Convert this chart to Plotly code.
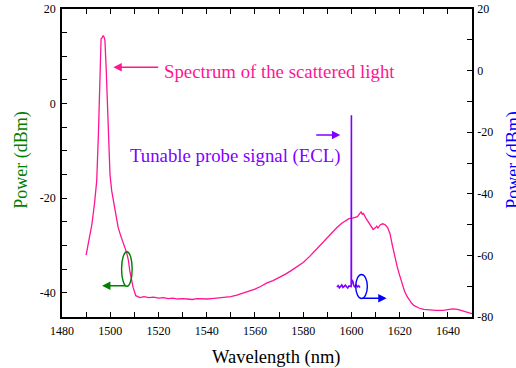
import plotly.graph_objects as go

# Spectrum of the scattered light (left axis, dBm)
spec_wl = [1490.0, 1491.2, 1492.4, 1493.5, 1494.4, 1495.1, 1495.8, 1496.2, 1496.7, 1497.1, 1497.5,
           1497.8, 1498.3, 1498.8, 1499.4, 1499.9, 1500.6, 1502.0, 1503.3, 1504.4, 1505.4, 1506.8,
           1507.5, 1508.1, 1509.5, 1510.6, 1512.3, 1514.0, 1516.0, 1518.0, 1520.0, 1522.0, 1524.0,
           1526.0, 1528.0, 1530.0, 1532.0, 1534.0, 1536.0, 1538.0, 1540.0, 1542.0, 1544.0, 1546.0,
           1548.0, 1550.0, 1552.5, 1555.0, 1557.5, 1560.0, 1562.5, 1565.0, 1567.5, 1570.0, 1572.5,
           1575.0, 1577.5, 1580.0, 1582.5, 1585.0, 1587.5, 1590.0, 1592.0, 1594.0, 1596.0, 1597.5,
           1599.0, 1600.5, 1601.5, 1602.5, 1603.5, 1604.0, 1604.5, 1605.0, 1606.0, 1607.0, 1608.0,
           1609.0, 1610.0, 1610.5, 1611.0, 1612.0, 1613.0, 1614.0, 1615.0, 1616.0, 1617.0, 1618.0,
           1619.0, 1620.0, 1621.0, 1622.0, 1623.0, 1624.0, 1625.0, 1626.0, 1628.0, 1630.0, 1632.0,
           1635.0, 1638.0, 1640.0, 1642.0, 1644.0, 1646.0, 1648.0, 1650.0]
spec_db = [-32.0, -28.8, -25.5, -21.0, -16.3, -6.4, 8.4, 13.7, 14.0, 14.4, 14.0,
           13.3, 7.7, 0.6, -7.8, -15.0, -18.4, -22.6, -26.2, -28.0, -29.4, -31.5,
           -33.0, -35.3, -38.9, -40.6, -41.0, -40.8, -41.0, -40.9, -41.1, -41.0, -41.2,
           -41.1, -41.3, -41.2, -41.3, -41.4, -41.2, -41.3, -41.3, -41.2, -41.1, -41.0,
           -40.9, -40.8, -40.5, -40.1, -39.7, -39.2, -38.6, -37.9, -37.4, -36.8, -36.1,
           -35.3, -34.5, -33.6, -32.4, -31.0, -29.7, -28.4, -27.2, -26.2, -25.3, -24.8,
           -24.3, -24.2, -24.0, -23.9, -23.2, -22.9, -23.4, -23.2, -24.2, -25.0, -25.8,
           -26.6, -26.2, -25.9, -26.3, -25.6, -25.4, -25.6, -26.2, -27.5, -30.0, -32.5,
           -34.5, -36.3, -38.2, -39.6, -40.7, -41.6, -42.2, -42.7, -43.2, -43.5, -43.6,
           -43.7, -43.7, -43.5, -43.4, -43.5, -43.8, -44.2, -44.4]

# Tunable probe signal (ECL) (right axis, dBm)
probe_wl = [1594.0, 1594.5, 1595.0, 1595.5, 1596.0, 1596.5, 1597.0, 1597.5, 1598.0, 1598.5,
            1599.0, 1599.5, 1599.9, 1600.0, 1600.0, 1600.2, 1600.6, 1601.0, 1601.5, 1602.0,
            1602.5, 1603.0, 1603.6]
probe_db = [-70.3, -69.8, -70.5, -70.0, -69.6, -70.4, -70.1, -69.7, -70.2, -70.6,
            -69.9, -70.0, -70.1, -14.5, -69.5, -68.0, -68.4, -69.8, -70.3, -69.6,
            -70.2, -69.9, -70.4]

x_ticks = [1480, 1500, 1520, 1540, 1560, 1580, 1600, 1620, 1640]
x_labels = ["1480", "1500", "1520", "1540", "1560", "1580", "1600", "1620", "1640"]
y1_ticks = [-40, -20, 0, 20]
y1_labels = ["-40", "-20", "0", "20"]
y2_ticks = [-80, -60, -40, -20, 0, 20]
y2_labels = ["-80", "-60", "-40", "-20", "0", "20"]

MAGENTA = "#ff1493"
PURPLE = "#8000ff"
GREEN = "#008000"
BLUE = "#0000ff"
FONT = "Liberation Serif"

fig = go.Figure()
fig.add_trace(go.Scatter(x=spec_wl, y=spec_db, mode="lines",
                         line=dict(color=MAGENTA, width=1.3), yaxis="y", showlegend=False))
fig.add_trace(go.Scatter(x=probe_wl, y=probe_db, mode="lines",
                         line=dict(color=PURPLE, width=1.6), yaxis="y2", showlegend=False))

axis_common = dict(showline=True, linecolor="black", linewidth=1.8, ticks="inside",
                   ticklen=5, tickwidth=1.2, tickcolor="black", showgrid=False, zeroline=False,
                   automargin=False,
                   tickfont=dict(family=FONT, size=12, color="black"))

fig.update_layout(
    width=516, height=368,
    margin=dict(l=62, r=44, t=9, b=51, autoexpand=False),
    paper_bgcolor="white", plot_bgcolor="white",
    font=dict(family=FONT, size=12, color="black"),
    xaxis=dict(range=[1480, 1650], tickvals=x_ticks, ticktext=x_labels, mirror="ticks",
               minor=dict(dtick=10, tick0=1480, ticks="inside", ticklen=5, tickcolor="black"),
               ticklabelstandoff=2, **axis_common),
    yaxis=dict(range=[-45.1, 20], tickvals=y1_ticks, ticktext=y1_labels,
               minor=dict(dtick=5, tick0=0, ticks="inside", ticklen=5, tickcolor="black"),
               ticklabelstandoff=2, **axis_common),
    yaxis2=dict(range=[-80, 20], tickvals=y2_ticks, ticktext=y2_labels, overlaying="y",
                side="right",
                minor=dict(dtick=10, tick0=0, ticks="inside", ticklen=5, tickcolor="black"),
                ticklabelstandoff=1, **axis_common),
)

ann = []
# axis titles
ann.append(dict(text="Wavelength (nm)", xref="paper", yref="paper", x=0.522, y=-0.13,
                xanchor="center", yanchor="middle", showarrow=False,
                font=dict(family=FONT, size=18.5, color="black")))
ann.append(dict(text="Power (dBm)", xref="paper", yref="paper", x=-0.098, y=0.51,
                xanchor="center", yanchor="middle", showarrow=False, textangle=-90,
                font=dict(family=FONT, size=18, color=GREEN)))
ann.append(dict(text="Power (dBm)", xref="paper", yref="paper", x=1.102, y=0.51,
                xanchor="center", yanchor="middle", showarrow=False, textangle=-90,
                font=dict(family=FONT, size=18, color=BLUE)))
# labels
ann.append(dict(text="Spectrum of the scattered light", xref="x", yref="y", x=1521.3, y=6.7,
                xanchor="left", yanchor="middle", showarrow=False,
                font=dict(family=FONT, size=18.8, color=MAGENTA)))
ann.append(dict(text="", xref="x", yref="y", x=1501.3, y=7.7, axref="x", ayref="y",
                ax=1520.5, ay=7.7, showarrow=True, arrowhead=2, arrowsize=1.2,
                arrowwidth=1.4, arrowcolor=MAGENTA))
ann.append(dict(text="Tunable probe signal (ECL)", xref="x", yref="y", x=1507.3, y=-11.0,
                xanchor="left", yanchor="middle", showarrow=False,
                font=dict(family=FONT, size=18.8, color=PURPLE)))
ann.append(dict(text="", xref="x", yref="y2", x=1595.4, y=-20.9, axref="x", ayref="y2",
                ax=1584.8, ay=-20.9, showarrow=True, arrowhead=2, arrowsize=1.2,
                arrowwidth=1.4, arrowcolor=PURPLE))
# axis pointer arrows
ann.append(dict(text="", xref="x", yref="y", x=1496.6, y=-38.5, axref="x", ayref="y",
                ax=1506.9, ay=-38.5, showarrow=True, arrowhead=2, arrowsize=1.2,
                arrowwidth=1.4, arrowcolor=GREEN))
ann.append(dict(text="", xref="x", yref="y2", x=1614.6, y=-73.9, axref="x", ayref="y2",
                ax=1604.3, ay=-73.9, showarrow=True, arrowhead=2, arrowsize=1.2,
                arrowwidth=1.4, arrowcolor=BLUE))
fig.update_layout(annotations=ann)

fig.add_shape(type="circle", xref="x", yref="y", x0=1504.7, x1=1509.1, y0=-38.6, y1=-31.3,
              line=dict(color=GREEN, width=1.4))
fig.add_shape(type="circle", xref="x", yref="y2", x0=1601.8, x1=1606.6, y0=-74.0, y1=-66.2,
              line=dict(color=BLUE, width=1.4))

fig.write_html("out.html")
